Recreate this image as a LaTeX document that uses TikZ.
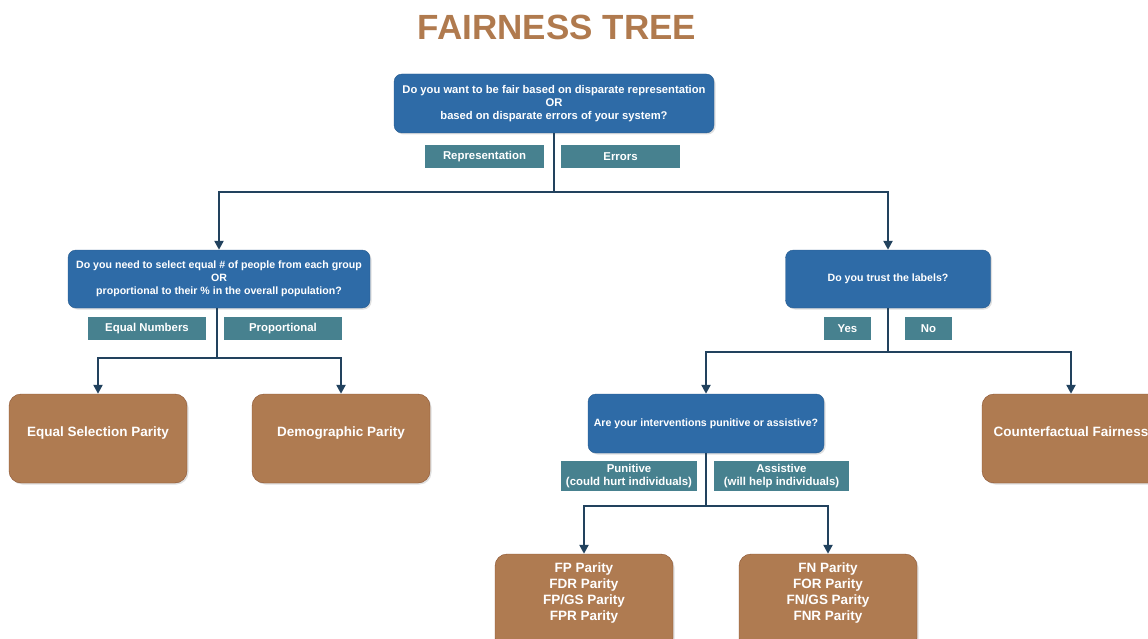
\documentclass[tikz,border=0pt]{standalone}
\usepackage{fontspec}
\setmainfont{Liberation Sans}
\usetikzlibrary{arrows.meta,shadows}
\definecolor{qblue}{HTML}{2E6BA7}
\definecolor{tagteal}{HTML}{47818F}
\definecolor{leafbrown}{HTML}{AF7B51}
\definecolor{leafedge}{HTML}{8A5230}
\definecolor{linenavy}{HTML}{22425E}
\definecolor{titlebrown}{HTML}{B07A4E}

\begin{document}
\begin{tikzpicture}[x=1pt, y=-1pt,
        question/.style={draw=qblue!85!black, fill=qblue, rounded corners=8pt, text=white, align=center, inner sep=0pt,
            font=\bfseries\fontsize{10.6}{13}\selectfont, drop shadow={shadow xshift=1.5pt, shadow yshift=-1.5pt, opacity=0.25}},
        tag/.style={fill=tagteal, text=white, align=center, inner sep=0pt, minimum height=23pt,
            font=\bfseries\fontsize{11.4}{13}\selectfont},
        leaf/.style={draw=leafedge, fill=leafbrown, rounded corners=12pt, text=white, align=center, inner sep=0pt,
            minimum width=178pt, minimum height=89pt, font=\bfseries\fontsize{13.5}{16}\selectfont,
            drop shadow={shadow xshift=1.5pt, shadow yshift=-1.5pt, opacity=0.25}},
        line/.style={draw=linenavy, line width=2.4pt},
        arrow/.style={line, -{Triangle[length=9pt, width=9pt]}}
    ]
        \useasboundingbox (0,0) rectangle (1148,639);
        \clip (0,0) rectangle (1148,639);

        \node[text=titlebrown, font=\bfseries\fontsize{35}{40}\selectfont] (title) at (557,27) {FAIRNESS TREE};

        \node[question, minimum width=320pt, minimum height=59pt, font=\bfseries\fontsize{11.2}{13}\selectfont] (fairq) at (554,103.5)
            {Do you want to be fair based on disparate representation\\OR\\based on disparate errors of your system?};
        \node[tag, minimum width=119pt] (reptag) at (484.5,156.5) {Representation};
        \node[tag, minimum width=119pt] (errtag) at (620.5,156.5) {Errors};

        \node[question, minimum width=302pt, minimum height=58pt] (selectq) at (219,279)
            {Do you need to select equal \# of people from each group\\OR\\proportional to their \% in the overall population?};
        \node[question, minimum width=205pt, minimum height=58pt] (trustq) at (888,279) {Do you trust the labels?};

        \node[tag, minimum width=118pt] (eqtag) at (147,328.5) {Equal Numbers};
        \node[tag, minimum width=118pt] (proptag) at (283,328.5) {Proportional};
        \node[tag, minimum width=47pt] (yestag) at (847.5,328.5) {Yes};
        \node[tag, minimum width=47pt] (notag) at (928.5,328.5) {No};

        \node[leaf, text height=10pt, text depth=15pt] (eqsel) at (98,438.5) {Equal Selection Parity};
        \node[leaf, text height=10pt, text depth=15pt] (demo) at (341,438.5) {Demographic Parity};
        \node[leaf, text height=10pt, text depth=15pt] (cfair) at (1071,438.5) {Counterfactual Fairness};

        \node[question, minimum width=236pt, minimum height=59pt] (punq) at (706,423.5) {Are your interventions punitive or assistive?};
        \node[tag, minimum width=136pt, minimum height=30pt] (puntag) at (629,476) {Punitive\\(could hurt individuals)};
        \node[tag, minimum width=135pt, minimum height=30pt] (asstag) at (781.5,476) {Assistive\\(will help individuals)};

        \node[leaf, minimum height=96pt] (fpbox) at (584,602) {FP Parity\\FDR Parity\\FP/GS Parity\\FPR Parity\\[4pt]};
        \node[leaf, minimum height=96pt] (fnbox) at (828,602) {FN Parity\\FOR Parity\\FN/GS Parity\\FNR Parity\\[4pt]};

        \coordinate (split1) at (554,192);
        \coordinate (split2) at (217,358);
        \coordinate (split3) at (888,352);
        \coordinate (split4) at (706,506);

        \draw[line] (fairq) -- (split1);
        \draw[arrow] (split1) -| (selectq);
        \draw[arrow] (split1) -| (trustq);
        \draw[line] (selectq.south -| split2) -- (split2);
        \draw[arrow] (split2) -| (eqsel);
        \draw[arrow] (split2) -| (demo);
        \draw[line] (trustq) -- (split3);
        \draw[arrow] (split3) -| (punq);
        \draw[arrow] (split3) -| (cfair);
        \draw[line] (punq) -- (split4);
        \draw[arrow] (split4) -| (fpbox);
        \draw[arrow] (split4) -| (fnbox);
    \end{tikzpicture}
\end{document}
